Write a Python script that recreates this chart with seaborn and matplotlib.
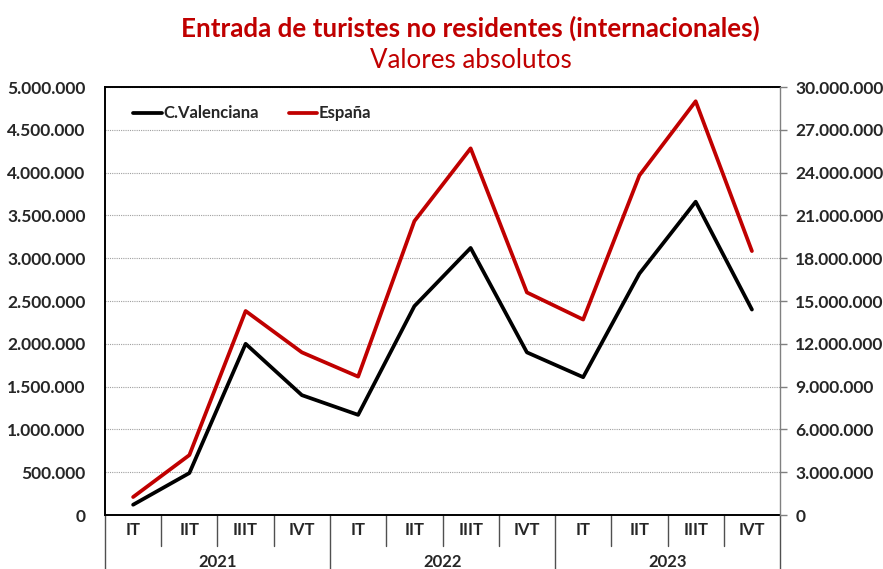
import seaborn as sns
import matplotlib.pyplot as plt
import pandas as pd
from matplotlib.ticker import FuncFormatter, MultipleLocator

# data
quarters = ["IT", "IIT", "IIIT", "IVT"] * 3
years = ["2021", "2022", "2023"]
valenciana = [120000, 490000, 2000000, 1400000, 1170000, 2440000, 3120000,
              1900000, 1610000, 2820000, 3660000, 2400000]
espana = [1260000, 4200000, 14300000, 11400000, 9700000, 20600000, 25700000,
          15600000, 13700000, 23800000, 29000000, 18500000]

df = pd.DataFrame({"pos": range(len(quarters)), "quarter": quarters,
                   "valenciana": valenciana, "espana": espana})

sns.set_style("white")
plt.rcParams["font.family"] = ["Lato", "DejaVu Sans"]

red = "#C00000"
fig = plt.figure(figsize=(8.83, 5.69), dpi=100)
ax = fig.add_axes([0.1189, 0.0949, 0.7645, 0.7522])
ax2 = ax.twinx()

sns.lineplot(data=df, x="pos", y="valenciana", ax=ax, color="black",
             linewidth=2.7, label="C. Valenciana", legend=False)
sns.lineplot(data=df, x="pos", y="espana", ax=ax2, color=red,
             linewidth=2.7, label="España", legend=False)

dots = FuncFormatter(lambda v, p: f"{v:,.0f}".replace(",", "."))

ax.set_xlim(-0.5, len(quarters) - 0.5)
ax.set_ylim(0, 5000000)
ax2.set_ylim(0, 30000000)
ax.yaxis.set_major_locator(MultipleLocator(500000))
ax2.yaxis.set_major_locator(MultipleLocator(3000000))
ax.yaxis.set_major_formatter(dots)
ax2.yaxis.set_major_formatter(dots)
ax.grid(axis="y", color="#a0a0a0", linestyle=(0, (1, 1)), linewidth=0.8)
ax.set_xticks([])
ax.set_xlabel("")
ax.set_ylabel("")
ax2.set_ylabel("")

for t in ax.get_yticklabels() + ax2.get_yticklabels():
    t.set_fontweight("bold")
ax.tick_params(axis="y", length=0, labelsize=12.5, pad=14)
ax2.tick_params(axis="y", length=5, width=1, color="#808080", labelsize=12.5, pad=6)

for name in ["left", "top", "bottom"]:
    ax.spines[name].set_color("black")
    ax.spines[name].set_linewidth(1.4)
    ax2.spines[name].set_visible(False)
ax.spines["right"].set_visible(False)
ax2.spines["right"].set_color("#808080")
ax2.spines["right"].set_linewidth(1)

# two-level category axis
tr = ax.get_xaxis_transform()
for i, q in enumerate(quarters):
    ax.text(i, -0.035, q, transform=tr, ha="center", va="center",
            fontsize=12, fontweight="bold")
for i in range(1, len(quarters)):
    if i % 4:
        ax.plot([i - 0.5, i - 0.5], [0, -0.072], transform=tr, color="#505050",
                lw=1, clip_on=False)
for k, y in enumerate(years):
    ax.text(4 * k + 1.5, -0.11, y, transform=tr, ha="center", va="center",
            fontsize=12, fontweight="bold")
    ax.plot([4 * k - 0.5, 4 * k - 0.5], [0, -0.13], transform=tr, color="#505050",
            lw=1, clip_on=False)
ax.plot([len(quarters) - 0.5] * 2, [0, -0.13], transform=tr, color="#505050",
        lw=1, clip_on=False)

handles = ax.get_lines()[:1] + ax2.get_lines()[:1]
leg = ax2.legend(handles, ["C.Valenciana", "España"], loc="upper left",
                 bbox_to_anchor=(0.02, 0.992), ncol=2, frameon=False,
                 handlelength=1.7, handletextpad=0.1, columnspacing=1.8,
                 prop={"weight": "bold", "size": 12})

fig.text(0.533, 0.951, "Entrada de turistes no residentes (internacionales)",
         ha="center", va="center", fontsize=18.7, fontweight="bold", color=red)
fig.text(0.533, 0.894, "Valores absolutos", ha="center", va="center",
         fontsize=18.6, color=red)

fig.savefig("out.png", dpi=100)
